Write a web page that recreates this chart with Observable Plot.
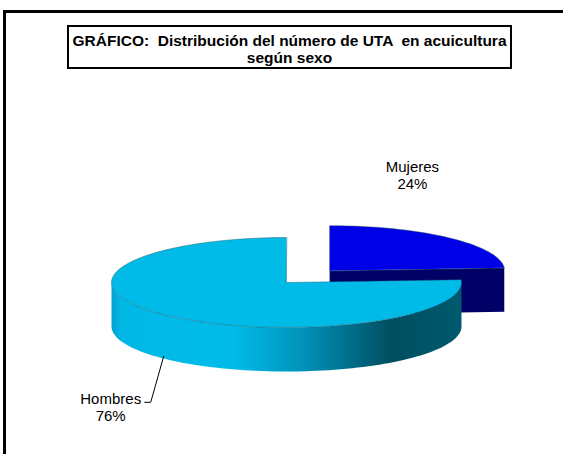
<!DOCTYPE html>
<html>
<head>
<meta charset="utf-8">
<script src="https://cdn.jsdelivr.net/npm/d3@7"></script>
<script src="https://cdn.jsdelivr.net/npm/@observablehq/plot@0.6"></script>
<style>
  html, body { margin: 0; padding: 0; background: #fff; }
  #wrap { position: relative; width: 563px; height: 454px; overflow: hidden; font-family: Arial, "Liberation Sans", sans-serif; }
  #chart { position: absolute; left: 0; top: 0; }
  #frame { position: absolute; left: 3px; top: 10px; width: 600px; height: 500px; border-left: 3px solid #000; border-top: 3px solid #000; }
  #title { position: absolute; left: 67px; top: 25px; width: 445px; height: 44px; box-sizing: border-box; border: 2px solid #000;
           font-weight: bold; font-size: 15.5px; line-height: 17px; text-align: center; white-space: pre; padding-top: 5px; color: #000; background: #fff; }
</style>
</head>
<body>
<div id="wrap">
  <div id="chart"></div>
  <div id="frame"></div>
  <div id="title">GRÁFICO:  Distribución del número de UTA  en acuicultura
según sexo</div>
</div>
<script>
// ---- data ----
const categories = ["Mujeres", "Hombres"];
const values = [24, 76];
const topColors = ["#0000e6", "#00bbe8"];
const sideColors = ["#000066", "url(#hgrad)"];
const explode = [0.36, 0];

// ---- layout ----
const W = 563, H = 454;
const cx = 286, cy = 282, rx = 175, ry = 45, depth = 44;
const labelOffsets = [[-37, -78], [-56, 33]];

const total = d3.sum(values);
const rad = d => d * Math.PI / 180;
let acc = 0;
const slices = categories.map((c, i) => {
  const a0 = acc / total * 360;
  acc += values[i];
  const a1 = acc / total * 360;
  const mid = (a0 + a1) / 2;
  const ox = cx + explode[i] * rx * Math.sin(rad(mid));
  const oy = cy - explode[i] * ry * Math.cos(rad(mid));
  return {cat: c, value: values[i], pct: Math.round(values[i] / total * 100), a0, a1, mid, ox, oy, i};
});

function rim(s, a, z = 0) {
  return {x: s.ox + rx * Math.sin(rad(a)), y: s.oy - ry * Math.cos(rad(a)) + z};
}
function arc(s, from, to, z = 0) {
  const n = Math.max(2, Math.ceil(Math.abs(to - from) / 2));
  return d3.range(n + 1).map(k => rim(s, from + (to - from) * k / n, z));
}

const marks = [];
// painter's order: slices further back first
const order = [...slices].sort((a, b) => a.oy - b.oy);
for (const s of order) {
  const parts = [];
  const endN = s.a1 + 90;
  if (-Math.cos(rad(endN)) > 0.01) {
    const p = rim(s, s.a1);
    parts.push({pts: [{x: s.ox, y: s.oy}, p, {x: p.x, y: p.y + depth}, {x: s.ox, y: s.oy + depth}], fill: sideColors[s.i]});
  }
  const startN = s.a0 - 90;
  if (-Math.cos(rad(startN)) > 0.01) {
    const p = rim(s, s.a0);
    parts.push({pts: [{x: s.ox, y: s.oy}, p, {x: p.x, y: p.y + depth}, {x: s.ox, y: s.oy + depth}], fill: sideColors[s.i]});
  }
  const f0 = Math.max(s.a0, 90), f1 = Math.min(s.a1, 270);
  if (f1 > f0) {
    const pts = arc(s, f0, f1).concat(arc(s, f1, f0, depth));
    parts.push({pts, fill: sideColors[s.i]});
  }
  parts.push({pts: [{x: s.ox, y: s.oy}, ...arc(s, s.a0, s.a1)], fill: topColors[s.i], top: true});
  for (const part of parts) {
    marks.push(Plot.line(part.pts, {
      x: "x", y: "y", curve: "linear-closed",
      fill: part.fill,
      stroke: part.top ? "#1d5566" : "none",
      strokeOpacity: part.top ? 0.55 : 0,
      strokeWidth: 0.8
    }));
  }
}

// labels
const labelData = slices.map(s => {
  const base = s.mid > 90 && s.mid < 270 ? rim(s, s.mid, depth) : rim(s, s.mid);
  return {x: base.x + labelOffsets[s.i][0], y: base.y + labelOffsets[s.i][1], text: `${s.cat}\n${s.pct}%`, s, base};
});
marks.push(Plot.text(labelData, {
  x: "x", y: "y", text: "text", textAnchor: "middle", lineAnchor: "top",
  lineHeight: 1.13, fontSize: 15, fill: "#000", fontFamily: "Arial, 'Liberation Sans', sans-serif"
}));

// leader line for Hombres label
const h = labelData.find(d => d.s.cat === "Hombres");
const leader = [
  {x: h.base.x - 3, y: h.base.y - 3},
  {x: h.base.x - 16, y: h.base.y + 43},
  {x: h.base.x - 22, y: h.base.y + 43}
];
marks.push(Plot.line(leader, {x: "x", y: "y", stroke: "#000", strokeWidth: 1}));

const chart = Plot.plot({
  width: W, height: H,
  margin: 0,
  x: {domain: [0, W], axis: null},
  y: {domain: [0, H], reverse: true, axis: null},
  style: {background: "transparent"},
  marks
});

const svg = d3.select(chart);
const defs = svg.insert("defs", ":first-child");
const g = defs.append("linearGradient").attr("id", "hgrad")
  .attr("gradientUnits", "userSpaceOnUse")
  .attr("x1", cx - rx).attr("x2", cx + rx).attr("y1", 0).attr("y2", 0);
[[0, "#00a3d2"], [0.03, "#00b8e5"], [0.35, "#00bbe8"], [0.55, "#0092b8"], [0.8, "#004e60"], [1, "#005a6e"]]
  .forEach(([o, c]) => g.append("stop").attr("offset", o).attr("stop-color", c));

document.getElementById("chart").appendChild(chart);
</script>
</body>
</html>
